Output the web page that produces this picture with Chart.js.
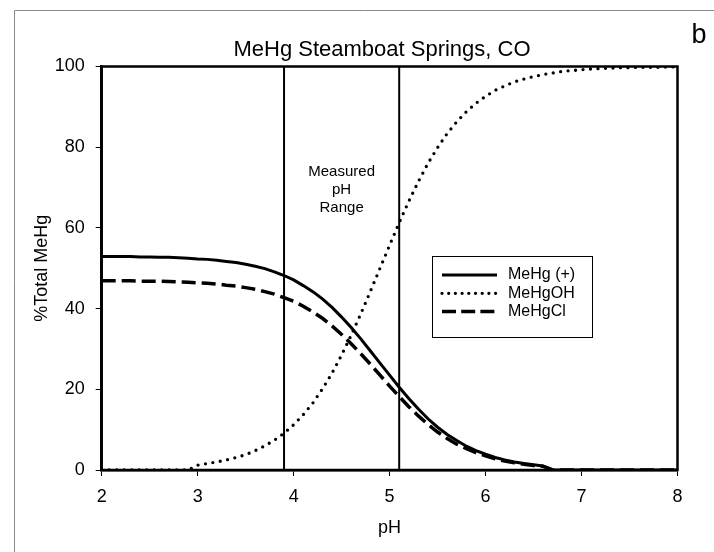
<!DOCTYPE html>
<html><head><meta charset="utf-8">
<script src="https://cdn.jsdelivr.net/npm/chart.js@4/dist/chart.umd.min.js"></script>
<style>html,body{margin:0;padding:0;background:#fff;}</style>
</head><body>
<canvas id="c" width="714" height="552"></canvas>
<script>
const pH = [2.0,2.1,2.2,2.3,2.4,2.5,2.6,2.7,2.8,2.9,3.0,3.1,3.2,3.3,3.4,3.5,3.6,3.7,3.8,3.9,4.0,4.1,4.2,4.3,4.4,4.5,4.6,4.7,4.8,4.9,5.0,5.1,5.2,5.3,5.4,5.5,5.6,5.7,5.8,5.9,6.0,6.1,6.2,6.3,6.4,6.5,6.6,6.7,6.8,6.9,7.0,7.1,7.2,7.3,7.4,7.5,7.6,7.7,7.8,7.9,8.0];
const meHgPlus = [52.9,52.9,52.9,52.9,52.8,52.8,52.7,52.7,52.6,52.5,52.3,52.2,52.0,51.7,51.4,51.0,50.5,49.9,49.1,48.2,47.1,45.7,44.2,42.4,40.3,37.9,35.3,32.5,29.5,26.5,23.5,20.5,17.7,15.1,12.7,10.6,8.8,7.3,5.9,4.8,3.9,3.1,2.5,2.0,1.6,1.3,1.0,0,0,0,0,0,0,0,0,0,0,0,0,0,0];
const meHgOH = [0,0,0,0,0,0,0,0,0,0,1.2,1.6,2.0,2.5,3.1,3.8,4.8,6.0,7.4,9.1,11.2,13.7,16.6,20.1,24.0,28.5,33.4,38.7,44.3,50.0,55.7,61.3,66.6,71.5,76.0,79.9,83.4,86.3,88.8,90.9,92.6,94.1,95.2,96.2,96.9,97.5,98.0,98.4,98.8,99.0,99.2,99.4,99.5,99.6,99.7,99.7,99.8,99.8,99.8,99.9,99.9];
const meHgCl = [46.9,46.9,46.9,46.9,46.8,46.8,46.8,46.7,46.6,46.5,46.4,46.3,46.1,45.8,45.6,45.2,44.8,44.2,43.6,42.7,41.8,40.6,39.2,37.6,35.7,33.6,31.3,28.8,26.2,23.5,20.8,18.2,15.7,13.4,11.3,9.4,7.8,6.4,5.3,4.3,3.5,2.8,2.2,1.8,1.4,1.1,0.9,0,0,0,0,0,0,0,0,0,0,0,0,0,0];
const measuredRange = [3.9, 5.1];
const seriesLabels = ['MeHg (+)', 'MeHgOH', 'MeHgCl'];
const xTicks = [2,3,4,5,6,7,8];
const yTicks = [0,20,40,60,80,100];
const titleText = 'MeHg Steamboat Springs, CO';
const panelLetter = 'b';
const rangeText = ['Measured', 'pH', 'Range'];

const FONT = '"Liberation Sans", Arial, Helvetica, sans-serif';
const pts = (ys) => pH.map((x, i) => ({x, y: ys[i]}));
const vline = (v) => [{x: v, y: 0}, {x: v, y: 100}];

const series = [
  {label: seriesLabels[0], data: pts(meHgPlus), borderColor: '#000', borderWidth: 3, borderDash: [], borderCapStyle: 'butt'},
  {label: seriesLabels[1], data: pts(meHgOH), borderColor: '#000', borderWidth: 3.3, borderDash: [0, 7.5], borderCapStyle: 'round'},
  {label: seriesLabels[2], data: pts(meHgCl), borderColor: '#000', borderWidth: 3.5, borderDash: [14, 6], borderCapStyle: 'butt'}
];
const rangeLines = measuredRange.map(v => ({label: 'range', data: vline(v), borderColor: '#000', borderWidth: 2, isRange: true}));

const annot = {
  id: 'annot',
  beforeDraw(chart) {
    const ctx = chart.ctx;
    ctx.save();
    ctx.fillStyle = '#fff';
    ctx.fillRect(0, 0, chart.width, chart.height);
    ctx.strokeStyle = '#8a8a8a';
    ctx.lineWidth = 1;
    ctx.beginPath();
    ctx.moveTo(14.5, chart.height);
    ctx.lineTo(14.5, 10.5);
    ctx.lineTo(chart.width, 10.5);
    ctx.stroke();
    ctx.restore();
  },
  afterDatasetsDraw(chart) {
    const {ctx, chartArea: a, scales: {x, y}} = chart;
    ctx.save();
    ctx.strokeStyle = '#000';
    ctx.lineWidth = 2.5;
    ctx.strokeRect(a.left, a.top, a.right - a.left, a.bottom - a.top);
    ctx.fillStyle = '#000';
    ctx.font = '22px ' + FONT;
    ctx.textAlign = 'center';
    ctx.textBaseline = 'alphabetic';
    ctx.fillText(titleText, 382, 56);
    ctx.font = '27px ' + FONT;
    ctx.fillText(panelLetter, 699, 43);
    ctx.font = '15px ' + FONT;
    ctx.textBaseline = 'middle';
    const cx = (x.getPixelForValue(measuredRange[0]) + x.getPixelForValue(measuredRange[1])) / 2;
    rangeText.forEach((t, i) => ctx.fillText(t, cx, 172 + i * 17.8));
    const L = 432, T = 256, R = 592, B = 337;
    ctx.fillStyle = '#fff';
    ctx.fillRect(L, T, R - L, B - T);
    ctx.lineWidth = 1;
    ctx.strokeStyle = '#000';
    ctx.strokeRect(L + 0.5, T + 0.5, R - L, B - T);
    ctx.textAlign = 'left';
    ctx.font = '16px ' + FONT;
    chart.data.datasets.filter(d => !d.isRange).forEach((d, i) => {
      const ry = 275 + i * 18.3;
      ctx.beginPath();
      ctx.lineWidth = d.borderWidth;
      ctx.lineCap = d.borderCapStyle;
      ctx.setLineDash(d.borderDash.length ? [d.borderDash[0], d.borderDash[1] - 0.8] : []);
      ctx.moveTo(442, ry);
      ctx.lineTo(497, ry);
      ctx.stroke();
      ctx.setLineDash([]);
      ctx.fillStyle = '#000';
      ctx.fillText(d.label, 508, ry);
    });
    ctx.restore();
  }
};

new Chart(document.getElementById('c'), {
  type: 'scatter',
  data: {datasets: [...series, ...rangeLines]},
  plugins: [annot],
  options: {
    responsive: false,
    animation: false,
    showLine: true,
    elements: {point: {radius: 0, hoverRadius: 0}, line: {tension: 0, fill: false}},
    layout: {padding: {left: 14, right: 36.5, top: 66.5, bottom: 0}},
    plugins: {legend: {display: false}, tooltip: {enabled: false}, title: {display: false}},
    scales: {
      x: {
        type: 'linear', min: 2, max: 8,
        afterFit: s => { s.height = 82; },
        afterBuildTicks: s => { s.ticks = xTicks.map(v => ({value: v})); },
        grid: {drawOnChartArea: false, drawTicks: true, tickLength: 6, color: '#000', lineWidth: 1},
        border: {display: true, color: '#000', width: 2.5},
        ticks: {color: '#000', padding: 10, font: {family: FONT, size: 18}},
        title: {display: true, text: 'pH', color: '#000', font: {family: FONT, size: 18}, padding: {top: 0, bottom: 13}}
      },
      y: {
        type: 'linear', min: 0, max: 100,
        afterFit: s => { s.width = 87.7; },
        afterBuildTicks: s => { s.ticks = yTicks.map(v => ({value: v})); },
        grid: {drawOnChartArea: false, drawTicks: true, tickLength: 6, color: '#000', lineWidth: 1},
        border: {display: true, color: '#000', width: 2.5},
        ticks: {color: '#000', padding: 11, font: {family: FONT, size: 18}},
        title: {display: true, text: '%Total MeHg', color: '#000', font: {family: FONT, size: 18}, padding: {top: 17, bottom: 0}}
      }
    }
  }
});
</script>
</body></html>
